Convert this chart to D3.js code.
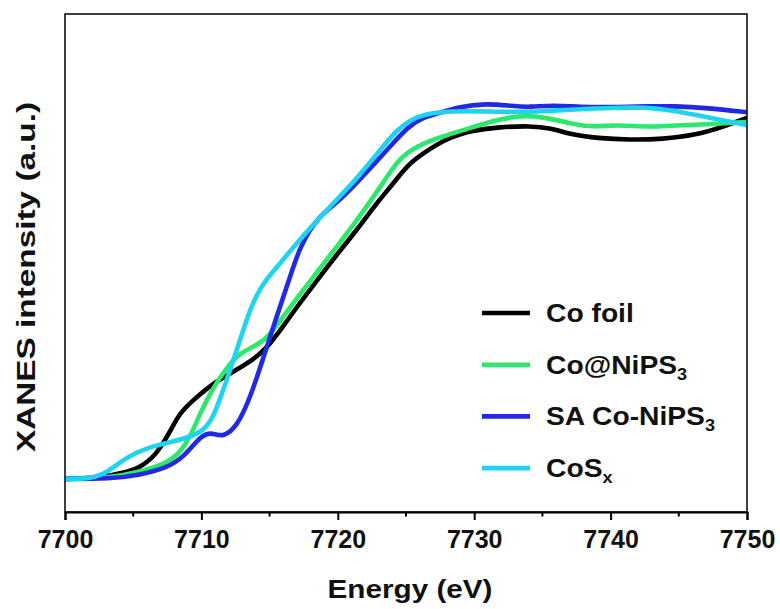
<!DOCTYPE html>
<html>
<head>
<meta charset="utf-8">
<script src="https://cdn.jsdelivr.net/npm/d3@7"></script>
<style>
  body { margin: 0; background: #fff; }
  svg { display: block; font-family: Arial, "Liberation Sans", sans-serif; }
</style>
</head>
<body>
<div id="chart"></div>
<script>
// Energy (eV) and normalised XANES intensity
const coFoilE = [7700, 7702.6, 7704.3, 7705.5, 7706.7, 7707.7, 7708.4, 7709.4, 7710.9, 7712.3, 7713.8, 7714.8, 7715.8, 7717.0, 7718.5, 7719.9, 7721.4, 7722.9, 7724.1, 7725.1, 7726.3, 7728.0, 7729.9, 7731.9, 7734.1, 7735.6, 7737.2, 7739.0, 7741.4, 7743.8, 7746.3, 7748.2, 7750];
const coFoilI = [0, 0.003, 0.017, 0.031, 0.067, 0.131, 0.183, 0.219, 0.267, 0.297, 0.331, 0.364, 0.414, 0.478, 0.553, 0.622, 0.692, 0.769, 0.822, 0.872, 0.906, 0.947, 0.969, 0.978, 0.981, 0.975, 0.956, 0.947, 0.942, 0.944, 0.956, 0.978, 1.003];

const coNiE = [7700, 7703.3, 7705.5, 7707.5, 7708.4, 7709.2, 7709.9, 7710.9, 7711.9, 7712.8, 7714.1, 7715.0, 7716.5, 7718.2, 7719.9, 7721.4, 7722.6, 7723.6, 7724.3, 7725.1, 7726.3, 7727.5, 7729.2, 7731.2, 7733.4, 7735.0, 7737.0, 7738.3, 7740.2, 7741.6, 7743.1, 7745.1, 7747.5, 7750];
const coNiI = [0, 0.003, 0.019, 0.044, 0.072, 0.117, 0.183, 0.256, 0.311, 0.350, 0.372, 0.397, 0.478, 0.561, 0.644, 0.719, 0.783, 0.839, 0.878, 0.908, 0.933, 0.950, 0.969, 0.994, 1.011, 1.006, 0.989, 0.978, 0.983, 0.981, 0.978, 0.983, 0.986, 0.992];

const saCoE = [7700, 7703.3, 7705.5, 7707.5, 7708.7, 7709.7, 7710.4, 7711.0, 7711.6, 7712.6, 7713.6, 7714.5, 7715.5, 7716.5, 7717.2, 7718.5, 7720.2, 7721.6, 7723.8, 7725.1, 7726.3, 7727.5, 7728.7, 7730.9, 7732.8, 7734.1, 7735.8, 7737.8, 7740.2, 7742.7, 7744.6, 7747.1, 7750];
const saCoI = [0, 0, 0.011, 0.031, 0.061, 0.108, 0.128, 0.125, 0.117, 0.144, 0.228, 0.331, 0.450, 0.561, 0.644, 0.728, 0.775, 0.831, 0.922, 0.978, 1.006, 1.017, 1.033, 1.044, 1.036, 1.033, 1.039, 1.033, 1.033, 1.036, 1.036, 1.031, 1.019];

const cosxE = [7700, 7701.8, 7703.1, 7704.5, 7706.0, 7707.5, 7708.9, 7710.1, 7710.9, 7711.6, 7712.6, 7713.6, 7714.5, 7715.8, 7717.0, 7718.5, 7719.9, 7721.6, 7723.1, 7724.3, 7725.5, 7726.8, 7728.5, 7730.4, 7732.8, 7735.3, 7737.8, 7740.2, 7742.7, 7744.4, 7746.3, 7748.2, 7750];
const cosxI = [0, 0, 0.017, 0.061, 0.086, 0.100, 0.114, 0.131, 0.172, 0.247, 0.358, 0.478, 0.544, 0.600, 0.656, 0.719, 0.775, 0.844, 0.914, 0.969, 1.003, 1.017, 1.022, 1.022, 1.019, 1.022, 1.028, 1.031, 1.033, 1.025, 1.011, 0.997, 0.983];

const xTicks = [7700, 7710, 7720, 7730, 7740, 7750];
const xMinorTicks = [7705, 7715, 7725, 7735, 7745];

const series = [
  {name: 'Co foil', sub: '', e: coFoilE, v: coFoilI, color: '#000000'},
  {name: 'Co@NiPS', sub: '3', e: coNiE, v: coNiI, color: '#2ce86c'},
  {name: 'SA Co-NiPS', sub: '3', e: saCoE, v: saCoI, color: '#2229e4'},
  {name: 'CoS', sub: 'x', e: cosxE, v: cosxI, color: '#1ed4f0'}
];

const W = 780, H = 609;
const margin = {top: 14, right: 33, bottom: 97, left: 65};
const width = W - margin.left - margin.right;
const height = H - margin.top - margin.bottom;

const svg = d3.select('#chart').append('svg')
    .attr('width', W)
    .attr('height', H);

const g = svg.append('g')
    .attr('transform', `translate(${margin.left},${margin.top})`);

const x = d3.scaleLinear().domain([7700, 7750]).range([0, width]);
const y = d3.scaleLinear().domain([-0.092, 1.292]).range([height, 0]);

// clip so the thick lines stay in the frame
g.append('clipPath').attr('id', 'clip')
  .append('rect').attr('width', width).attr('height', height);

const line = d3.line()
    .x(d => x(d[0]))
    .y(d => y(d[1]))
    .curve(d3.curveBasis);

g.append('g').attr('clip-path', 'url(#clip)')
  .selectAll('path')
  .data(series)
  .join('path')
    .attr('d', s => line(s.e.map((e, i) => [e, s.v[i]])))
    .attr('fill', 'none')
    .attr('stroke', s => s.color)
    .attr('stroke-width', 4.6)
    .attr('stroke-linejoin', 'round')
    .attr('stroke-linecap', 'round');

// frame
g.append('rect')
    .attr('width', width)
    .attr('height', height)
    .attr('fill', 'none')
    .attr('stroke', '#111')
    .attr('stroke-width', 1.6);

// x axis
const xAxis = g.append('g')
    .attr('transform', `translate(0,${height})`)
    .call(d3.axisBottom(x).tickValues(xTicks).tickFormat(d3.format('d')).tickSize(8).tickPadding(10));
xAxis.select('.domain').attr('stroke-width', 2);
xAxis.selectAll('.tick line').attr('stroke-width', 2);
xAxis.selectAll('.tick text')
    .attr('font-size', 25)
    .attr('font-weight', 'bold')
    .attr('fill', '#111');

g.append('g')
    .attr('transform', `translate(0,${height})`)
    .selectAll('line')
    .data(xMinorTicks)
    .join('line')
    .attr('x1', d => x(d)).attr('x2', d => x(d))
    .attr('y1', 0).attr('y2', 4.5)
    .attr('stroke', '#000')
    .attr('stroke-width', 2);

// axis titles
svg.append('text')
    .attr('x', 410)
    .attr('y', 598)
    .attr('text-anchor', 'middle')
    .attr('font-size', 25)
    .attr('font-weight', 'bold')
    .attr('fill', '#111')
    .attr('textLength', 165)
    .attr('lengthAdjust', 'spacingAndGlyphs')
    .text('Energy (eV)');

svg.append('text')
    .attr('transform', 'translate(35,277) rotate(-90)')
    .attr('text-anchor', 'middle')
    .attr('font-size', 25)
    .attr('font-weight', 'bold')
    .attr('fill', '#111')
    .attr('textLength', 350)
    .attr('lengthAdjust', 'spacingAndGlyphs')
    .text('XANES intensity (a.u.)');

// legend
const legend = svg.append('g');
const leg = legend.selectAll('g')
    .data(series)
    .join('g')
    .attr('transform', (d, i) => `translate(482,${313 + i * 51.7})`);

leg.append('line')
    .attr('x1', 0).attr('x2', 48)
    .attr('stroke', d => d.color)
    .attr('stroke-width', 4.6);

const lt = leg.append('text')
    .attr('transform', 'translate(64,9) scale(1.13,1)')
    .attr('font-size', 25)
    .attr('font-weight', 'bold')
    .attr('fill', '#111');
lt.append('tspan').text(d => d.name);
lt.append('tspan')
    .attr('font-size', 16)
    .attr('dy', 6)
    .text(d => d.sub);
</script>
</body>
</html>
